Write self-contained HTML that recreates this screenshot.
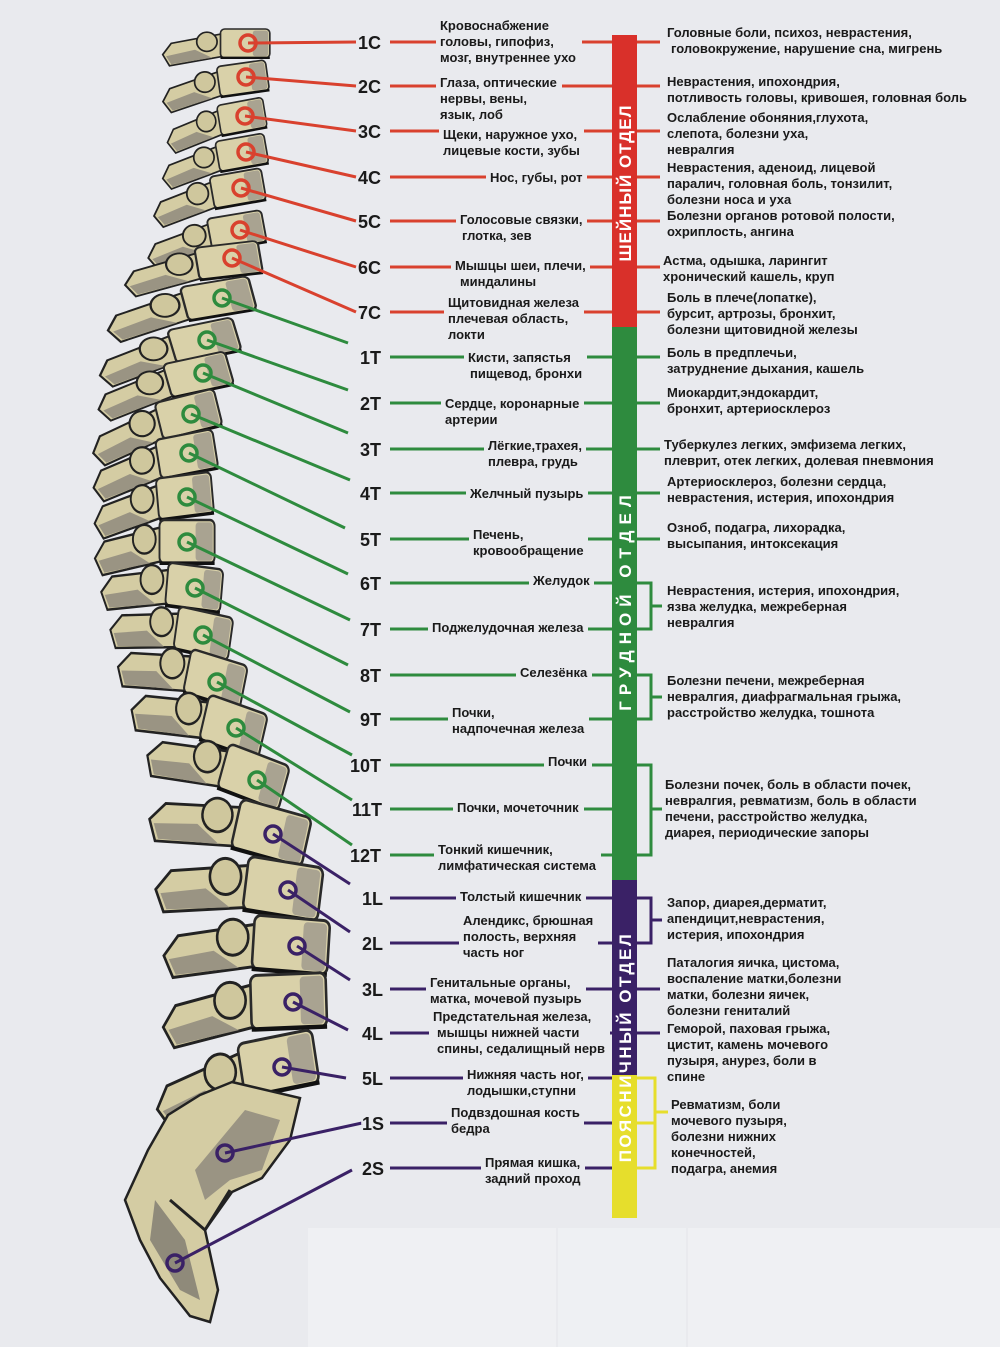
<!DOCTYPE html>
<html><head><meta charset="utf-8"><style>
html,body{margin:0;padding:0;background:#e9eaee;}
svg{display:block}
text{font-family:"Liberation Sans","Noto Sans CJK SC",sans-serif;font-weight:bold;}
.t{font-size:13px;fill:#1a1a1a}
.l{font-size:18px;fill:#1a1a1a;paint-order:stroke;stroke:#e9eaee;stroke-width:4px}
.r{font-size:13px;fill:#1a1a1a}
</style></head><body>
<svg width="1000" height="1347" viewBox="0 0 1000 1347" xmlns="http://www.w3.org/2000/svg">
<rect width="1000" height="1347" fill="#e9eaee"/>
<rect x="308" y="1228" width="248" height="119" fill="#eff0f3"/>
<rect x="558" y="1228" width="128" height="119" fill="#eef0f3"/>
<rect x="688" y="1228" width="312" height="119" fill="#eff0f3"/>
<defs>
<g id="v">
  <path d="M-28,-14 L-88,-2 L-98,12 L-90,26 L-26,14 Z" fill="#d4cca3" stroke="#222" stroke-width="2"/>
  <path d="M-60,6 L-94,14 L-88,24 L-40,16 Z" fill="#9a9483"/>
  <circle cx="-46" cy="-4" r="12" fill="#cfc79d" stroke="#222" stroke-width="2"/>
  <rect x="-30" y="-20" width="58" height="36" rx="5" fill="#d9d1a9" stroke="#2a2a2a" stroke-width="2"/>
  <rect x="8" y="-18" width="18" height="32" rx="3" fill="#a9a391"/>
  <path d="M-30,16 L28,16" stroke="#111" stroke-width="3"/>
</g>
</defs>
<use href="#v" transform="translate(246,45) scale(0.85,0.8)"/>
<use href="#v" transform="translate(244,80) scale(0.85,0.85) rotate(-8)"/>
<use href="#v" transform="translate(243,118) scale(0.8,0.85) rotate(-10)"/>
<use href="#v" transform="translate(243,154) scale(0.85,0.85) rotate(-10)"/>
<use href="#v" transform="translate(239,190) scale(0.9,0.9) rotate(-10)"/>
<use href="#v" transform="translate(238,232) scale(0.95,0.9) rotate(-10)"/>
<use href="#v" transform="translate(230,262) scale(1.1,0.9) rotate(-8)"/>
<use href="#v" transform="translate(220,300) scale(1.2,0.95) rotate(-12)"/>
<use href="#v" transform="translate(206,342) scale(1.15,0.95) rotate(-14)"/>
<use href="#v" transform="translate(200,376) scale(1.1,0.95) rotate(-14)"/>
<use href="#v" transform="translate(190,416) scale(1.05,1.05) rotate(-14)"/>
<use href="#v" transform="translate(188,456) scale(1.0,1.1) rotate(-10)"/>
<use href="#v" transform="translate(186,498) scale(0.95,1.15) rotate(-6)"/>
<use href="#v" transform="translate(188,544) scale(0.95,1.2) rotate(0)"/>
<use href="#v" transform="translate(195,590) scale(0.95,1.2) rotate(6)"/>
<use href="#v" transform="translate(204,636) scale(0.95,1.2) rotate(10)"/>
<use href="#v" transform="translate(216,682) scale(1.0,1.25) rotate(14)"/>
<use href="#v" transform="translate(234,730) scale(1.05,1.3) rotate(16)"/>
<use href="#v" transform="translate(254,780) scale(1.1,1.3) rotate(18)"/>
<use href="#v" transform="translate(272,836) scale(1.25,1.4) rotate(14)"/>
<use href="#v" transform="translate(284,892) scale(1.3,1.5) rotate(8)"/>
<use href="#v" transform="translate(292,948) scale(1.3,1.5) rotate(4)"/>
<use href="#v" transform="translate(290,1004) scale(1.3,1.5) rotate(-2)"/>
<use href="#v" transform="translate(280,1066) scale(1.3,1.5) rotate(-10)"/>
<path d="M232,1082 L300,1098 L290,1140 L262,1178 L232,1192 L205,1230 L218,1290 L210,1322 L190,1316 L160,1278 L140,1240 L125,1200 L148,1150 L168,1115 L200,1095 Z" fill="#d4cca3" stroke="#222" stroke-width="2.5"/>
<path d="M245,1110 L280,1120 L262,1170 L230,1180 L205,1200 L195,1170 L220,1140 Z" fill="#9a9483"/>
<path d="M155,1200 L185,1240 L200,1300 L180,1290 L150,1240 Z" fill="#8f8a7a"/>
<path d="M230,1190 L205,1230 L170,1200" fill="none" stroke="#222" stroke-width="3"/>

<g stroke="#d9412e" stroke-width="3" fill="none">
<line x1="248" y1="43" x2="356" y2="42"/>
<line x1="246" y1="77" x2="356" y2="86"/>
<line x1="245" y1="116" x2="356" y2="131"/>
<line x1="246" y1="152" x2="356" y2="177"/>
<line x1="241" y1="188" x2="356" y2="221"/>
<line x1="240" y1="230" x2="356" y2="267"/>
<line x1="232" y1="258" x2="356" y2="312"/>
</g>
<g stroke="#2e8b3e" stroke-width="3" fill="none">
<line x1="222" y1="298" x2="348" y2="343"/>
<line x1="207" y1="340" x2="348" y2="390"/>
<line x1="203" y1="373" x2="348" y2="433"/>
<line x1="191" y1="414" x2="350" y2="480"/>
<line x1="189" y1="453" x2="345" y2="528"/>
<line x1="187" y1="497" x2="348" y2="574"/>
<line x1="187" y1="542" x2="350" y2="620"/>
<line x1="195" y1="588" x2="348" y2="665"/>
<line x1="203" y1="635" x2="350" y2="712"/>
<line x1="217" y1="682" x2="352" y2="755"/>
<line x1="236" y1="728" x2="352" y2="800"/>
<line x1="257" y1="780" x2="352" y2="845"/>
</g>
<g stroke="#3a2166" stroke-width="3" fill="none">
<line x1="273" y1="834" x2="350" y2="884"/>
<line x1="288" y1="890" x2="350" y2="932"/>
<line x1="297" y1="946" x2="350" y2="980"/>
<line x1="293" y1="1002" x2="348" y2="1030"/>
<line x1="282" y1="1067" x2="346" y2="1078"/>
<line x1="225" y1="1153" x2="362" y2="1123"/>
<line x1="175" y1="1263" x2="352" y2="1170"/>
</g>
<g fill="none" stroke-width="3.5">
<g stroke="#d9412e">
<circle cx="248" cy="43" r="8"/><circle cx="246" cy="77" r="8"/><circle cx="245" cy="116" r="8"/><circle cx="246" cy="152" r="8"/><circle cx="241" cy="188" r="8"/><circle cx="240" cy="230" r="8"/><circle cx="232" cy="258" r="8"/>
</g>
<g stroke="#2e8b3e">
<circle cx="222" cy="298" r="8"/><circle cx="207" cy="340" r="8"/><circle cx="203" cy="373" r="8"/><circle cx="191" cy="414" r="8"/><circle cx="189" cy="453" r="8"/><circle cx="187" cy="497" r="8"/><circle cx="187" cy="542" r="8"/><circle cx="195" cy="588" r="8"/><circle cx="203" cy="635" r="8"/><circle cx="217" cy="682" r="8"/><circle cx="236" cy="728" r="8"/><circle cx="257" cy="780" r="8"/>
</g>
<g stroke="#3a2166">
<circle cx="273" cy="834" r="8"/><circle cx="288" cy="890" r="8"/><circle cx="297" cy="946" r="8"/><circle cx="293" cy="1002" r="8"/><circle cx="282" cy="1067" r="8"/><circle cx="225" cy="1153" r="8"/><circle cx="175" cy="1263" r="8"/>
</g>
</g>

<g stroke-width="3">
<g stroke="#d9412e">
<line x1="390" y1="42" x2="612" y2="42"/><line x1="390" y1="86" x2="612" y2="86"/><line x1="390" y1="131" x2="612" y2="131"/><line x1="390" y1="177" x2="612" y2="177"/><line x1="390" y1="221" x2="612" y2="221"/><line x1="390" y1="267" x2="612" y2="267"/><line x1="390" y1="312" x2="612" y2="312"/>
<line x1="637" y1="42" x2="660" y2="42"/><line x1="637" y1="86" x2="660" y2="86"/><line x1="637" y1="131" x2="660" y2="131"/><line x1="637" y1="177" x2="660" y2="177"/><line x1="637" y1="221" x2="660" y2="221"/><line x1="637" y1="267" x2="660" y2="267"/><line x1="637" y1="312" x2="660" y2="312"/>
</g>
<g stroke="#2e8b3e">
<line x1="390" y1="357" x2="612" y2="357"/><line x1="390" y1="403" x2="612" y2="403"/><line x1="390" y1="449" x2="612" y2="449"/><line x1="390" y1="493" x2="612" y2="493"/><line x1="390" y1="539" x2="612" y2="539"/><line x1="390" y1="583" x2="612" y2="583"/><line x1="390" y1="629" x2="612" y2="629"/><line x1="390" y1="675" x2="612" y2="675"/><line x1="390" y1="719" x2="612" y2="719"/><line x1="390" y1="765" x2="612" y2="765"/><line x1="390" y1="809" x2="612" y2="809"/><line x1="390" y1="855" x2="612" y2="855"/>
<line x1="637" y1="357" x2="660" y2="357"/><line x1="637" y1="403" x2="660" y2="403"/><line x1="637" y1="449" x2="660" y2="449"/><line x1="637" y1="493" x2="660" y2="493"/><line x1="637" y1="539" x2="660" y2="539"/>
<path d="M637,583 H651 V629 H637 M651,606 H662" fill="none"/>
<path d="M637,675 H651 V719 H637 M651,697 H662" fill="none"/>
<path d="M637,765 H651 V855 H637 M651,809 H662" fill="none"/>
</g>
<g stroke="#3a2166">
<line x1="390" y1="898" x2="612" y2="898"/><line x1="390" y1="943" x2="612" y2="943"/><line x1="390" y1="989" x2="612" y2="989"/><line x1="390" y1="1033" x2="612" y2="1033"/><line x1="390" y1="1078" x2="612" y2="1078"/>
<path d="M637,898 H651 V943 H637 M651,920 H662" fill="none"/>
<line x1="637" y1="989" x2="660" y2="989"/><line x1="637" y1="1033" x2="660" y2="1033"/>
<line x1="390" y1="1123" x2="612" y2="1123"/><line x1="390" y1="1168" x2="612" y2="1168"/>
</g>
<g stroke="#e6de2c"><path d="M637,1078 H655 V1168 H637 M637,1123 H655 M655,1112 H668" fill="none"/></g>
</g>

<!-- text backgrounds -->
<g fill="#e9eaee">
<rect x="436" y="16" width="146" height="50"/>
<rect x="436" y="73" width="126" height="50"/>
<rect x="439" y="125" width="145" height="34"/>
<rect x="486" y="168" width="101" height="18"/>
<rect x="456" y="210" width="131" height="34"/>
<rect x="451" y="256" width="139" height="34"/>
<rect x="444" y="293" width="140" height="50"/>
<rect x="464" y="348" width="123" height="34"/>
<rect x="441" y="394" width="143" height="34"/>
<rect x="484" y="436" width="102" height="34"/>
<rect x="466" y="484" width="122" height="18"/>
<rect x="469" y="525" width="119" height="34"/>
<rect x="529" y="571" width="65" height="18"/>
<rect x="428" y="618" width="160" height="18"/>
<rect x="516" y="663" width="76" height="18"/>
<rect x="448" y="703" width="141" height="34"/>
<rect x="544" y="752" width="48" height="18"/>
<rect x="453" y="798" width="131" height="18"/>
<rect x="434" y="840" width="167" height="34"/>
<rect x="456" y="887" width="130" height="18"/>
<rect x="459" y="911" width="139" height="50"/>
<rect x="426" y="973" width="160" height="34"/>
<rect x="429" y="1007" width="181" height="50"/>
<rect x="463" y="1065" width="125" height="34"/>
<rect x="447" y="1103" width="137" height="34"/>
<rect x="481" y="1153" width="104" height="34"/>
</g>

<rect x="612" y="35" width="25" height="292" fill="#d9302a"/>
<rect x="612" y="327" width="25" height="553" fill="#2e8b3e"/>
<rect x="612" y="880" width="25" height="195" fill="#3a2166"/>
<rect x="612" y="1075" width="25" height="143" fill="#e6de2c"/>
<text transform="translate(631,183) rotate(-90)" text-anchor="middle" font-size="17" fill="#fff" letter-spacing="1">ШЕЙНЫЙ ОТДЕЛ</text>
<text transform="translate(631,600) rotate(-90)" text-anchor="middle" font-size="17" fill="#fff" letter-spacing="6">ГРУДНОЙ ОТДЕЛ</text>
<text transform="translate(631,1047) rotate(-90)" text-anchor="middle" font-size="17" fill="#fff" letter-spacing="2.5">ПОЯСНИЧНЫЙ ОТДЕЛ</text>

<g class="l">
<text x="358" y="49">1C</text><text x="358" y="93">2C</text><text x="358" y="138">3C</text><text x="358" y="184">4C</text><text x="358" y="228">5C</text><text x="358" y="274">6C</text><text x="358" y="319">7C</text>
<text x="360" y="364">1T</text><text x="360" y="410">2T</text><text x="360" y="456">3T</text><text x="360" y="500">4T</text><text x="360" y="546">5T</text><text x="360" y="590">6T</text><text x="360" y="636">7T</text><text x="360" y="682">8T</text><text x="360" y="726">9T</text>
<text x="350" y="772">10T</text><text x="352" y="816">11T</text><text x="350" y="862">12T</text>
<text x="362" y="905">1L</text><text x="362" y="950">2L</text><text x="362" y="996">3L</text><text x="362" y="1040">4L</text><text x="362" y="1085">5L</text>
<text x="362" y="1130">1S</text><text x="362" y="1175">2S</text>
</g>

<g class="t">
<text x="440" y="30">Кровоснабжение</text><text x="440" y="46">головы, гипофиз,</text><text x="440" y="62">мозг, внутреннее ухо</text>
<text x="440" y="87">Глаза, оптические</text><text x="440" y="103">нервы, вены,</text><text x="440" y="119">язык, лоб</text>
<text x="443" y="139">Щеки, наружное ухо,</text><text x="443" y="155">лицевые кости, зубы</text>
<text x="490" y="182">Нос, губы, рот</text>
<text x="460" y="224">Голосовые связки,</text><text x="462" y="240">глотка, зев</text>
<text x="455" y="270">Мышцы шеи, плечи,</text><text x="460" y="286">миндалины</text>
<text x="448" y="307">Щитовидная железа</text><text x="448" y="323">плечевая область,</text><text x="448" y="339">локти</text>
<text x="468" y="362">Кисти, запястья</text><text x="470" y="378">пищевод, бронхи</text>
<text x="445" y="408">Сердце, коронарные</text><text x="445" y="424">артерии</text>
<text x="488" y="450">Лёгкие,трахея,</text><text x="488" y="466">плевра, грудь</text>
<text x="470" y="498">Желчный пузырь</text>
<text x="473" y="539">Печень,</text><text x="473" y="555">кровообращение</text>
<text x="533" y="585">Желудок</text>
<text x="432" y="632">Поджелудочная железа</text>
<text x="520" y="677">Селезёнка</text>
<text x="452" y="717">Почки,</text><text x="452" y="733">надпочечная железа</text>
<text x="548" y="766">Почки</text>
<text x="457" y="812">Почки, мочеточник</text>
<text x="438" y="854">Тонкий кишечник,</text><text x="438" y="870">лимфатическая система</text>
<text x="460" y="901">Толстый кишечник</text>
<text x="463" y="925">Алендикс, брюшная</text><text x="463" y="941">полость, верхняя</text><text x="463" y="957">часть ног</text>
<text x="430" y="987">Генитальные органы,</text><text x="430" y="1003">матка, мочевой пузырь</text>
<text x="433" y="1021">Предстательная железа,</text><text x="437" y="1037">мышцы нижней части</text><text x="437" y="1053">спины, седалищный нерв</text>
<text x="467" y="1079">Нижняя часть ног,</text><text x="467" y="1095">лодышки,ступни</text>
<text x="451" y="1117">Подвздошная кость</text><text x="451" y="1133">бедра</text>
<text x="485" y="1167">Прямая кишка,</text><text x="485" y="1183">задний проход</text>
</g>

<g class="r">
<text x="667" y="37">Головные боли, психоз, неврастения,</text><text x="671" y="53">головокружение, нарушение сна, мигрень</text>
<text x="667" y="86">Неврастения, ипохондрия,</text><text x="667" y="102">потливость головы, кривошея, головная боль</text>
<text x="667" y="122">Ослабление обоняния,глухота,</text><text x="667" y="138">слепота, болезни уха,</text><text x="667" y="154">невралгия</text>
<text x="667" y="172">Неврастения, аденоид, лицевой</text><text x="667" y="188">паралич, головная боль, тонзилит,</text><text x="667" y="204">болезни носа и уха</text>
<text x="667" y="220">Болезни органов ротовой полости,</text><text x="667" y="236">охриплость, ангина</text>
<text x="663" y="265">Астма, одышка, ларингит</text><text x="663" y="281">хронический кашель, круп</text>
<text x="667" y="302">Боль в плече(лопатке),</text><text x="667" y="318">бурсит, артрозы, бронхит,</text><text x="667" y="334">болезни щитовидной железы</text>
<text x="667" y="357">Боль в предплечьи,</text><text x="667" y="373">затруднение дыхания, кашель</text>
<text x="667" y="397">Миокардит,эндокардит,</text><text x="667" y="413">бронхит, артериосклероз</text>
<text x="664" y="449">Туберкулез легких, эмфизема легких,</text><text x="664" y="465">плеврит, отек легких, долевая пневмония</text>
<text x="667" y="486">Артериосклероз, болезни сердца,</text><text x="667" y="502">неврастения, истерия, ипохондрия</text>
<text x="667" y="532">Озноб, подагра, лихорадка,</text><text x="667" y="548">высыпания, интоксекация</text>
<text x="667" y="595">Неврастения, истерия, ипохондрия,</text><text x="667" y="611">язва желудка, межреберная</text><text x="667" y="627">невралгия</text>
<text x="667" y="685">Болезни печени, межреберная</text><text x="667" y="701">невралгия, диафрагмальная грыжа,</text><text x="667" y="717">расстройство желудка, тошнота</text>
<text x="665" y="789">Болезни почек, боль в области почек,</text><text x="665" y="805">невралгия, ревматизм, боль в области</text><text x="665" y="821">печени, расстройство желудка,</text><text x="665" y="837">диарея, периодические запоры</text>
<text x="667" y="907">Запор, диарея,дерматит,</text><text x="667" y="923">апендицит,неврастения,</text><text x="667" y="939">истерия, ипохондрия</text>
<text x="667" y="967">Паталогия яичка, цистома,</text><text x="667" y="983">воспаление матки,болезни</text><text x="667" y="999">матки, болезни яичек,</text><text x="667" y="1015">болезни гениталий</text>
<text x="667" y="1033">Геморой, паховая грыжа,</text><text x="667" y="1049">цистит, камень мочевого</text><text x="667" y="1065">пузыря, анурез, боли в</text><text x="667" y="1081">спине</text>
<text x="671" y="1109">Ревматизм, боли</text><text x="671" y="1125">мочевого пузыря,</text><text x="671" y="1141">болезни нижних</text><text x="671" y="1157">конечностей,</text><text x="671" y="1173">подагра, анемия</text>
</g>
</svg>
</body></html>
